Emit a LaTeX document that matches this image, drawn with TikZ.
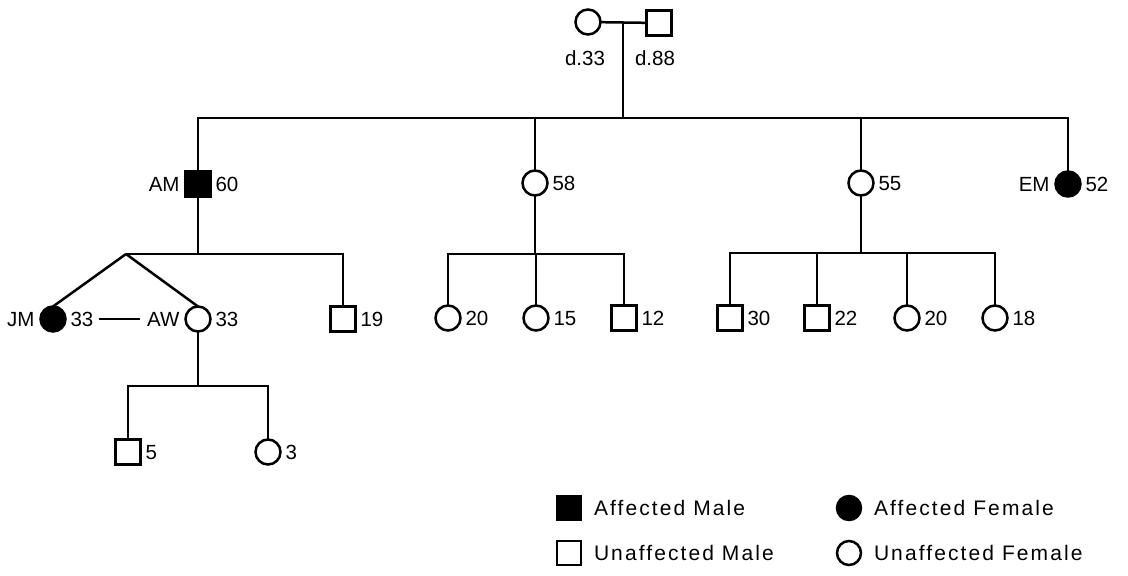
\documentclass[tikz,border=0pt]{standalone}
\usepackage{fontspec}
\setmainfont{Liberation Sans}
\newfontfamily\keyfont[LetterSpace=10]{Liberation Sans}
\begin{document}
\begin{tikzpicture}[x=1pt,y=-1pt,
  line width=2.5pt,
  every node/.style={inner sep=0pt, outer sep=0pt},
  male/.style={draw, rectangle, minimum size=25pt},
  female/.style={draw, circle, minimum size=25pt},
  affected/.style={fill=black},
  lbl/.style={font=\fontsize{20.5}{22}\selectfont, text depth=0pt},
  lblr/.style={lbl, anchor=west, xshift=5pt},
  lbll/.style={lbl, anchor=east, xshift=-6pt},
  legtext/.style={font=\keyfont\fontsize{21}{22}\selectfont, anchor=west}
]
\useasboundingbox (0,0) rectangle (1128,576);

% generation I
\node[female] (gm) at (588,22) {};
\node[male] (gf) at (659,23) {};
\node[lbl] (gmd) at (585,58) {d.33};
\node[lbl] (gfd) at (655,58) {d.88};
\coordinate (cpl) at (623,22);
\draw (gm) -- (gf);

% generation II
\node[male, affected] (am) at (198,184) {};
\node[female] (s58) at (535,183) {};
\node[female] (s55) at (861,183) {};
\node[female, affected] (em) at (1068,184) {};
\node[lbll] at (am.west) {AM};
\node[lblr] at (am.east) {60};
\node[lblr] at (s58.east) {58};
\node[lblr] at (s55.east) {55};
\node[lbll] at (em.west) {EM};
\node[lblr] at (em.east) {52};

\coordinate (sib1) at (623,118);
\draw (cpl) -- (sib1);
\draw (am.north) |- (sib1) -| (em.north);
\draw (s58.north) -- (s58.north |- sib1);
\draw (s55.north) -- (s55.north |- sib1);

% generation III, children of AM
\node[female, affected] (jm) at (53,319) {};
\node[female] (aw) at (198,319) {};
\node[male] (c19) at (343,319) {};
\node[lbll] (jml) at (jm.west) {JM};
\node[lblr] (jm33) at (jm.east) {33};
\node[lbll] (awl) at (aw.west) {AW};
\node[lblr] at (aw.east) {33};
\node[lblr] at (c19.east) {19};
\coordinate (twin) at (126,254);
\draw (am.south) -- (am.south |- twin);
\draw (twin) -- (c19.north |- twin) -- (c19.north);
\draw (twin) -- (jm.north);
\draw (twin) -- (aw.north);
\draw ([xshift=6pt]jm33.east) -- ([xshift=-7pt]awl.west);

% children of 58
\node[female] (d20a) at (448,318) {};
\node[female] (d15) at (536,318) {};
\node[male] (s12) at (624,318) {};
\node[lblr] at (d20a.east) {20};
\node[lblr] at (d15.east) {15};
\node[lblr] at (s12.east) {12};
\coordinate (sib58) at (535,254);
\draw (s58.south) -- (sib58);
\draw (d20a.north) |- (sib58) -| (s12.north);
\draw (d15.north) -- (d15.north |- sib58);

% children of 55
\node[male] (s30) at (730,318) {};
\node[male] (s22) at (817,318) {};
\node[female] (d20b) at (907,318) {};
\node[female] (d18) at (995,318) {};
\node[lblr] at (s30.east) {30};
\node[lblr] at (s22.east) {22};
\node[lblr] at (d20b.east) {20};
\node[lblr] at (d18.east) {18};
\coordinate (sib55) at (861,253);
\draw (s55.south) -- (sib55);
\draw (s30.north) |- (sib55) -| (d18.north);
\draw (s22.north) -- (s22.north |- sib55);
\draw (d20b.north) -- (d20b.north |- sib55);

% generation IV, children of AW
\node[male] (s5) at (128,452) {};
\node[female] (d3) at (268,452) {};
\node[lblr] at (s5.east) {5};
\node[lblr] at (d3.east) {3};
\coordinate (sibaw) at (198,386);
\draw (aw.south) -- (sibaw);
\draw (s5.north) |- (sibaw) -| (d3.north);

% key
\node[male, affected, minimum size=24pt] (kam) at (569,508) {};
\node[female, affected, minimum size=24pt] (kaf) at (849,508) {};
\node[male, minimum size=24pt] (kum) at (569,553) {};
\node[female, minimum size=24pt] (kuf) at (849,553) {};
\node[legtext] at ([xshift=13pt]kam.east) {Affected Male};
\node[legtext] at ([xshift=13pt]kaf.east) {Affected Female};
\node[legtext] at ([xshift=13pt]kum.east) {Unaffected Male};
\node[legtext] at ([xshift=13pt]kuf.east) {Unaffected Female};
\end{tikzpicture}
\end{document}
